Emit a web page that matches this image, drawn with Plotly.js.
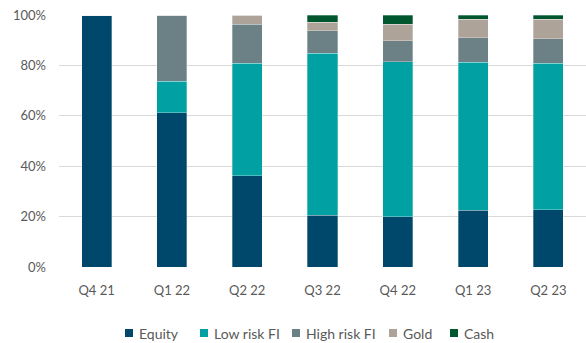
<!DOCTYPE html>
<html>
<head>
<meta charset="utf-8">
<script src="https://cdn.plot.ly/plotly-3.0.1.min.js"></script>
<style>html,body{margin:0;padding:0;background:#fff;}#chart{width:586px;height:343px;}</style>
</head>
<body>
<div id="chart"></div>
<script>
const quarters = ["Q4 21", "Q1 22", "Q2 22", "Q3 22", "Q4 22", "Q1 23", "Q2 23"];
const equity   = [100, 61.2, 36.2, 20.6, 20.0, 22.5, 22.7];
const lowRisk  = [0, 12.5, 44.6, 64.2, 61.5, 58.7, 58.1];
const highRisk = [0, 26.3, 15.6, 9.0, 8.3, 9.8, 9.7];
const gold     = [0, 0, 3.6, 3.4, 6.6, 7.3, 7.9];
const cash     = [0, 0, 0, 2.8, 3.6, 1.7, 1.6];
const yTicks = [0, 20, 40, 60, 80, 100];
const yTickLabels = ["0%", "20%", "40%", "60%", "80%", "100%"];

const seriesNames = ["Equity", "Low risk FI", "High risk FI", "Gold", "Cash"];
const seriesValues = [equity, lowRisk, highRisk, gold, cash];
const colors = ["#00486b", "#00a0a3", "#6c8186", "#ada398", "#00562f"];

const traces = seriesNames.map((n, i) => ({
  type: "bar",
  name: n,
  x: quarters,
  y: seriesValues[i],
  marker: {color: colors[i], line: {color: "rgba(255,255,255,0.6)", width: 0.5}},
  showlegend: false
}));

// plot area geometry (pixels)
const L = 59, R = 0, T = 15, B = 76, W = 586, H = 343;
const pw = W - L - R, ph = H - T - B;
const px2x = p => (p - L) / pw;
const py2y = p => (H - B - p) / ph;

// custom legend (matching the reference's compact legend)
const legendLeft = [125, 200, 292, 389, 450];
const legendY = 333;
const shapes = [], annotations = [];
seriesNames.forEach((n, i) => {
  const sx = legendLeft[i];
  shapes.push({type: "rect", xref: "paper", yref: "paper",
    x0: px2x(sx), x1: px2x(sx + 8), y0: py2y(legendY - 4), y1: py2y(legendY + 4),
    fillcolor: colors[i], line: {width: 0}});
  annotations.push({xref: "paper", yref: "paper", x: px2x(sx + 12), y: py2y(legendY),
    xanchor: "left", yanchor: "middle", text: n, showarrow: false,
    font: {size: 14, color: "#595959"}});
});

const layout = {
  width: W, height: H,
  margin: {l: L, r: R, t: T, b: B},
  barmode: "stack",
  bargap: 0.6,
  paper_bgcolor: "#fff",
  plot_bgcolor: "#fff",
  font: {family: "Lato, 'Open Sans', sans-serif", size: 13, color: "#595959"},
  showlegend: false,
  shapes: shapes,
  annotations: annotations,
  xaxis: {showgrid: false, zeroline: false, showline: false, ticks: "",
          ticklabelstandoff: 14, automargin: false,
          tickfont: {size: 13, color: "#595959"}},
  yaxis: {range: [0, 100], tickvals: yTicks, ticktext: yTickLabels,
          showgrid: true, gridcolor: "#d9d9d9", gridwidth: 1,
          zeroline: false, showline: false, ticks: "", ticklabelstandoff: 12,
          tickfont: {size: 13, color: "#595959"}, automargin: false}
};

Plotly.newPlot("chart", traces, layout, {displayModeBar: false, staticPlot: true});
</script>
</body>
</html>
